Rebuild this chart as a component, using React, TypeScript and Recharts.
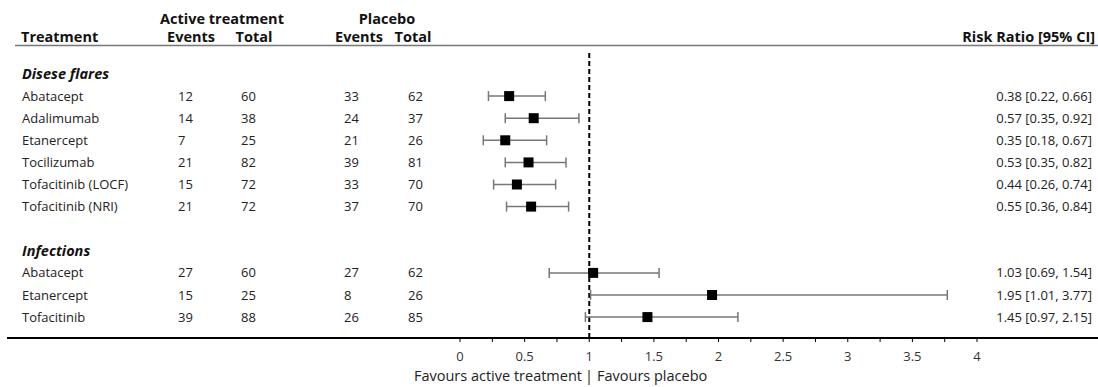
import React from 'react';
import { ScatterChart, Scatter, XAxis, YAxis, ErrorBar, ReferenceLine } from 'recharts';

// ---- data ----
const groupLabels = ['Disese flares', 'Infections'];
const groupRows = [0, 8];
const treatments = ['Abatacept', 'Adalimumab', 'Etanercept', 'Tocilizumab', 'Tofacitinib (LOCF)', 'Tofacitinib (NRI)', 'Abatacept', 'Etanercept', 'Tofacitinib'];
const rowIndex = [1, 2, 3, 4, 5, 6, 9, 10, 11];
const activeEvents = [12, 14, 7, 21, 15, 21, 27, 15, 39];
const activeTotals = [60, 38, 25, 82, 72, 72, 60, 25, 88];
const placeboEvents = [33, 24, 21, 39, 33, 37, 27, 8, 26];
const placeboTotals = [62, 37, 26, 81, 70, 70, 62, 26, 85];
const riskRatios = [0.38, 0.57, 0.35, 0.53, 0.44, 0.55, 1.03, 1.95, 1.45];
const ciLower = [0.22, 0.35, 0.18, 0.35, 0.26, 0.36, 0.69, 1.01, 0.97];
const ciUpper = [0.66, 0.92, 0.67, 0.82, 0.74, 0.84, 1.54, 3.77, 2.15];
const xTicks = [0, 0.25, 0.5, 0.75, 1, 1.25, 1.5, 1.75, 2, 2.25, 2.5, 2.75, 3, 3.25, 3.5, 3.75, 4];

const rows = treatments.map((t, i) => ({
  name: t,
  row: rowIndex[i],
  rr: riskRatios[i],
  err: [+(riskRatios[i] - ciLower[i]).toFixed(2), +(ciUpper[i] - riskRatios[i]).toFixed(2)],
  ae: activeEvents[i],
  at: activeTotals[i],
  pe: placeboEvents[i],
  pt: placeboTotals[i],
  lo: ciLower[i],
  hi: ciUpper[i],
}));

const groups = groupLabels.map((g, i) => ({ label: g, row: groupRows[i], rr: 1 }));

const fmt = (v: number) => v.toFixed(2);

const RowShape = (props: any) => {
  const { cx, cy, payload } = props;
  const common = { y: cy, dy: '0.35em', fontSize: 13, fill: '#222' } as any;
  return (
    <g>
      <text x={22} {...common}>{payload.name}</text>
      <text x={178} {...common}>{payload.ae}</text>
      <text x={241} {...common}>{payload.at}</text>
      <text x={344} {...common}>{payload.pe}</text>
      <text x={408} {...common}>{payload.pt}</text>
      <text x={1092} textAnchor="end" {...common}>{`${fmt(payload.rr)} [${fmt(payload.lo)}, ${fmt(payload.hi)}]`}</text>
      <rect x={cx - 5} y={cy - 5} width={10} height={10} fill="#000" />
    </g>
  );
};

const GroupShape = (props: any) => {
  const { cy, payload } = props;
  return (
    <text x={22} y={cy} dy="0.35em" fontSize={14.5} fontWeight="bold" fontStyle="italic" fill="#111">
      {payload.label}
    </text>
  );
};

export default function App() {
  return (
    <div style={{ position: 'absolute', left: 0, top: 0, fontFamily: '"Open Sans", sans-serif', background: '#fff' }}>
      <ScatterChart width={1098} height={387} margin={{ top: 50, right: 0, bottom: 0, left: 7 }}>
        <XAxis
          type="number"
          dataKey="rr"
          domain={[-3.505, 4.936]}
          allowDataOverflow
          ticks={xTicks}
          interval={0}
          tickFormatter={(v: number) => ((v * 2) % 1 === 0 ? String(v) : '')}
          height={49}
          tickSize={4}
          tickMargin={10}
          axisLine={{ stroke: '#000', strokeWidth: 2 }}
          tickLine={{ stroke: '#000' }}
          tick={{ fontSize: 13, fill: '#333' }}
        />
        <YAxis type="number" dataKey="row" domain={[-1.086, 11.946]} allowDataOverflow reversed width={0} hide />
        <ReferenceLine x={1} stroke="#000" strokeWidth={2} strokeDasharray="5 3" />
        <Scatter data={groups} shape={<GroupShape />} isAnimationActive={false} />
        <Scatter data={rows} shape={<RowShape />} isAnimationActive={false}>
          <ErrorBar dataKey="err" direction="x" width={5} stroke="#777" strokeWidth={1.5} />
        </Scatter>
        <line x1={15} x2={1098} y1={45.5} y2={45.5} stroke="#777" strokeWidth={1.5} />
        <g fontWeight="bold" fontSize={14.5} fill="#111">
          <text x={222} y={19} dy="0.35em" textAnchor="middle">Active treatment</text>
          <text x={387} y={19} dy="0.35em" textAnchor="middle">Placebo</text>
          <text x={21} y={37} dy="0.35em">Treatment</text>
          <text x={191} y={37} dy="0.35em" textAnchor="middle">Events</text>
          <text x={254} y={37} dy="0.35em" textAnchor="middle">Total</text>
          <text x={359} y={37} dy="0.35em" textAnchor="middle">Events</text>
          <text x={413} y={37} dy="0.35em" textAnchor="middle">Total</text>
          <text x={1095} y={37} dy="0.35em" textAnchor="end">Risk Ratio [95% CI]</text>
        </g>
        <g fontSize={14.5} fill="#222">
          <text x={582} y={376} dy="0.35em" textAnchor="end">Favours active treatment</text>
          <text x={589} y={376} dy="0.35em" textAnchor="middle">|</text>
          <text x={597} y={376} dy="0.35em">Favours placebo</text>
        </g>
      </ScatterChart>
    </div>
  );
}
